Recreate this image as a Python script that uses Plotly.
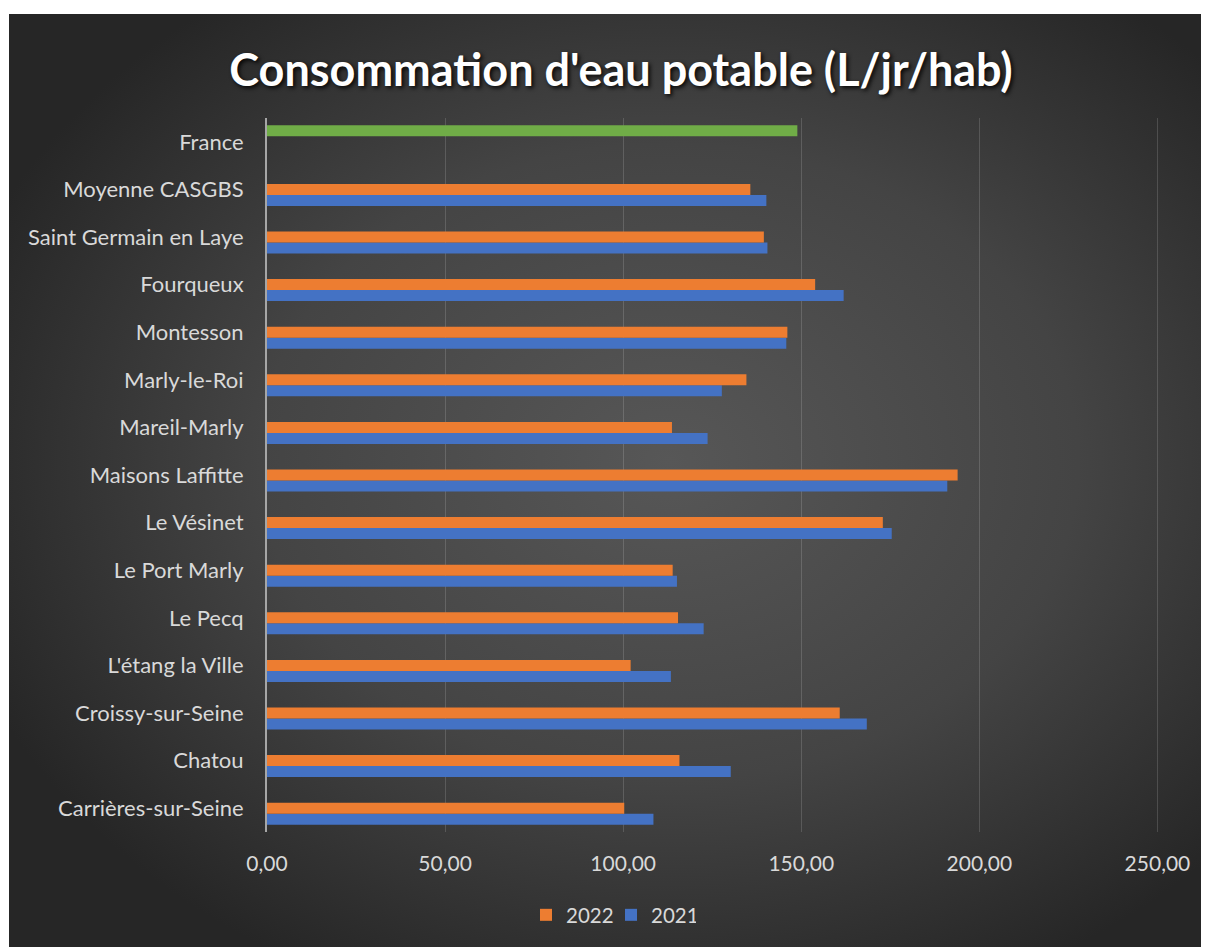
import base64
import plotly.graph_objects as go

categories = ["Carrières-sur-Seine", "Chatou", "Croissy-sur-Seine", "L'étang la Ville",
              "Le Pecq", "Le Port Marly", "Le Vésinet", "Maisons Laffitte", "Mareil-Marly",
              "Marly-le-Roi", "Montesson", "Fourqueux", "Saint Germain en Laye",
              "Moyenne CASGBS", "France"]
values_2022 = [100.3, 115.8, 160.8, 102.1, 115.4, 113.9, 172.9, 193.9, 113.7,
               134.6, 146.1, 153.9, 139.5, 135.7, None]
values_2021 = [108.5, 130.2, 168.4, 113.4, 122.6, 115.1, 175.4, 191.0, 123.7,
               127.7, 145.8, 161.9, 140.5, 140.2, None]
values_france = [None] * 14 + [148.9]
tick_vals = [0, 50, 100, 150, 200, 250]
tick_text = ["0,00", "50,00", "100,00", "150,00", "200,00", "250,00"]

# page body adds an 8px offset; figure coords = screen coords - 8
OFF = 8
W, H = 1209 - OFF, 947 - OFF
L, T, B = 267 - OFF, 118 - OFF, 832 - OFF
XMAX = 251
R = L + round(XMAX * 3.56)

svg = '''<svg xmlns="http://www.w3.org/2000/svg" width="1200" height="933" viewBox="0 0 1200 933" preserveAspectRatio="none">
<defs><radialGradient id="g" cx="55%" cy="48%" r="62%" fx="55%" fy="48%">
<stop offset="0%" stop-color="#575757"/><stop offset="55%" stop-color="#444444"/><stop offset="100%" stop-color="#262626"/>
</radialGradient></defs><rect width="1200" height="933" fill="url(#g)"/></svg>'''
bg_src = "data:image/svg+xml;base64," + base64.b64encode(svg.encode()).decode()

fig = go.Figure()
fig.add_trace(go.Bar(y=categories, x=values_2021, orientation="h", name="2021",
                     marker=dict(color="#4472C4", line=dict(width=0))))
fig.add_trace(go.Bar(y=categories, x=values_2022, orientation="h", name="2022",
                     marker=dict(color="#ED7D31", line=dict(width=0))))
fig.add_trace(go.Bar(y=categories, x=values_france, orientation="h", name="France",
                     showlegend=False, marker=dict(color="#70AD47", line=dict(width=0))))

pw, ph = R - L, B - T
fig.add_layout_image(dict(source=bg_src, xref="paper", yref="paper",
                          x=(1 - L) / pw, y=1 + (T - 6) / ph,
                          sizex=1200 / pw, sizey=933 / ph,
                          xanchor="left", yanchor="top", sizing="stretch", layer="below"))

fig.update_layout(
    width=W, height=H,
    margin=dict(l=L, r=W - R, t=T, b=H - B, pad=0),
    paper_bgcolor="white", plot_bgcolor="rgba(0,0,0,0)",
    barmode="group", bargap=0.307, bargroupgap=0,
    font=dict(family="Lato, sans-serif", color="#d9d9d9", size=21),
    title=dict(text="<b>Consommation d'eau potable (L/jr/hab)</b>",
               x=(621 - OFF) / W, xanchor="center", y=1 - (70 - OFF) / H, yanchor="middle",
               font=dict(family="Lato, sans-serif", size=45, color="white",
                         shadow="2px 2px 4px rgba(0,0,0,0.9)")),
    xaxis=dict(range=[0, XMAX], tickvals=tick_vals, ticktext=tick_text,
               showgrid=True, gridcolor="rgba(255,255,255,0.15)", gridwidth=1,
               zeroline=False, showline=False, ticks="", ticklabelstandoff=17,
               tickfont=dict(size=21, color="#d9d9d9"), fixedrange=True),
    yaxis=dict(categoryorder="array", categoryarray=categories,
               showline=True, linecolor="#a6a6a6", linewidth=2,
               showgrid=False, zeroline=False, ticks="", ticklabelstandoff=17,
               tickfont=dict(size=22, color="#d9d9d9")),
    legend=dict(orientation="h", traceorder="reversed", x=(611 - OFF - L) / pw, xanchor="center",
                y=(B - (915 - OFF)) / ph, yanchor="middle", bgcolor="rgba(0,0,0,0)",
                font=dict(size=20.5, color="#d9d9d9"), itemwidth=30,
                entrywidth=40, entrywidthmode="pixels"),
    showlegend=True,
)

fig.write_html("out.html")
